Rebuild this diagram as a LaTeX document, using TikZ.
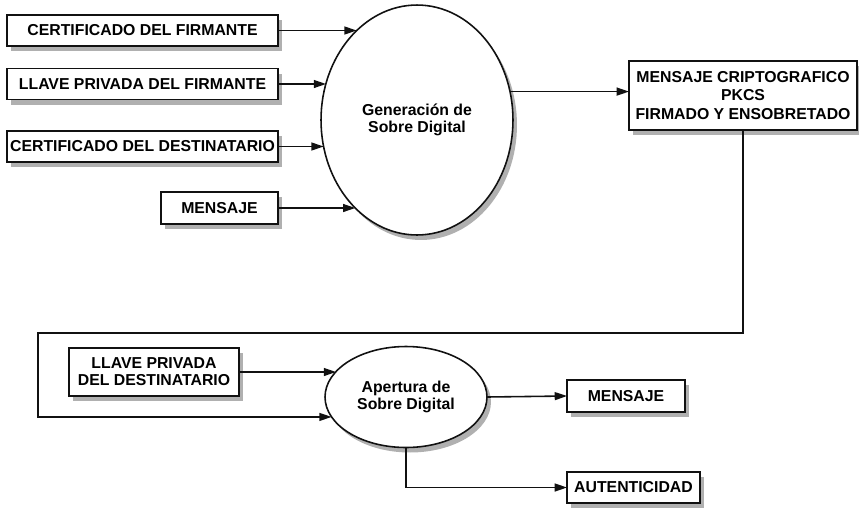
\documentclass[tikz,border=0pt]{standalone}
\usepackage{fontspec}
\setmainfont{Liberation Sans}
\usepackage{xcolor}
\usepackage{tikz}
\usetikzlibrary{arrows.meta,shapes.geometric}
\definecolor{Ink}{HTML}{111111}
\definecolor{ShadowGray}{HTML}{B0B0B0}

\begin{document}
\begin{tikzpicture}[
  x=0.02cm, y=-0.02cm,
  sombra/.style={preaction={fill=ShadowGray, draw=none, transform canvas={shift={(4,5)}}}},
  box/.style={rectangle, sombra, draw=Ink, line width=0.9pt, align=center, inner sep=0pt, outer sep=0pt, fill=white, font=\fontsize{9}{9.8}\selectfont\bfseries},
  proceso/.style={ellipse, sombra, draw=Ink, line width=0.9pt, align=center, inner sep=0pt, outer sep=0pt, fill=white, font=\fontsize{9}{9.8}\selectfont\bfseries},
  arrow/.style={-{Triangle[length=7pt,width=4.5pt]}, line width=0.9pt, draw=Ink}
]
\useasboundingbox (0,0) rectangle (859,508);
% generacion del sobre
\node[box, minimum width=5.42cm, minimum height=0.62cm] (certf) at (142.5,30.5) {CERTIFICADO DEL FIRMANTE};
\node[box, minimum width=5.42cm, minimum height=0.62cm] (llavef) at (142.5,84) {LLAVE PRIVADA DEL FIRMANTE};
\node[box, minimum width=5.42cm, minimum height=0.62cm] (certd) at (142.5,146.5) {CERTIFICADO DEL DESTINATARIO};
\node[box, minimum width=2.34cm, minimum height=0.64cm] (mensaje) at (219.5,208) {MENSAJE};
\node[proceso, minimum width=3.84cm, minimum height=4.6cm] (gen) at (417,120) {Generación de\\Sobre Digital};
\node[box, minimum width=4.56cm, minimum height=1.38cm, font=\fontsize{9}{10.6}\selectfont\bfseries] (cripto) at (743,95.5) {MENSAJE CRIPTOGRAFICO\\PKCS\\FIRMADO Y ENSOBRETADO};
% apertura del sobre
\node[box, minimum width=3.4cm, minimum height=0.96cm] (llaved) at (154,372) {LLAVE PRIVADA\\DEL DESTINATARIO};
\node[proceso, minimum width=3.24cm, minimum height=2.02cm] (aper) at (406,397) {Apertura de\\Sobre Digital};
\node[box, minimum width=2.36cm, minimum height=0.64cm] (salida) at (626,396) {MENSAJE};
\node[box, minimum width=2.66cm, minimum height=0.62cm] (autent) at (633.5,487.5) {AUTENTICIDAD};
\coordinate (vuelta) at (38,333);

\draw[arrow] (certf.east) -- (certf.east -| gen.124);
\draw[arrow] (llavef.east) -- (llavef.east -| gen.158);
\draw[arrow] (certd.east) -- (certd.east -| gen.196);
\draw[arrow] (mensaje.east) -- (mensaje.east -| gen.235);
\draw[arrow] (gen.17) -- (gen.17 -| cripto.west);
\draw[arrow] (cripto.south) |- (vuelta) |- (aper.195);
\draw[arrow] (llaved.east) -- (llaved.east -| aper.160);
\draw[arrow] (aper.east) -- (salida.west);
\draw[arrow] (aper.south) |- (autent.west);
\end{tikzpicture}
\end{document}
